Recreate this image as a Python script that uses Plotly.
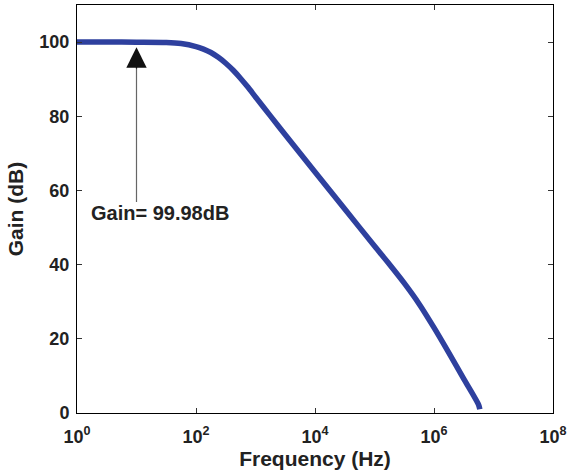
import plotly.graph_objects as go

# Frequency (Hz) and gain (dB)
freq = [1, 3.162, 10, 31.62, 56.23, 100, 133.4, 177.8, 237.1, 316.2, 421.7, 562.3,
        749.9, 1000, 1778, 3162, 10000, 31620, 100000, 177800, 316200, 562300,
        1000000, 1778000, 3162000, 5623000, 5888000]
gain = [100, 100, 99.98, 99.9, 99.6, 98.8, 98.1, 97.2, 95.9, 94.3, 92.4, 90.2,
        87.8, 85.2, 80.1, 75.0, 65.0, 55.0, 45.0, 40.1, 35.0, 29.4,
        23.0, 16.2, 9.2, 2.2, 1.0]

x_tickvals = [1, 100, 10000, 1000000, 100000000]
x_ticktext = ["10<sup>0</sup>", "10<sup>2</sup>", "10<sup>4</sup>", "10<sup>6</sup>", "10<sup>8</sup>"]
y_tickvals = [0, 20, 40, 60, 80, 100]

annot_text = "Gain= 99.98dB"
arrow_tip_gain = 98.6
arrow_head_base_gain = 92.5
arrow_tail_gain = 56.5

FONT = "Liberation Sans, Arial, sans-serif"
TXT = "#222222"

fig = go.Figure()
fig.add_trace(go.Scatter(
    x=freq, y=gain, mode="lines",
    line=dict(color="#2E409E", width=5.5, shape="spline", smoothing=0.8),
    showlegend=False,
))

# arrow shaft (gray)
fig.add_annotation(
    x=1, y=arrow_head_base_gain + 1, xref="x", yref="y",
    ax=1, ay=arrow_tail_gain, axref="x", ayref="y",
    text="", showarrow=True, arrowhead=0, arrowwidth=1.2,
    arrowcolor="#666666", standoff=0,
)
# arrow head (black)
fig.add_annotation(
    x=1, y=arrow_tip_gain, xref="x", yref="y",
    ax=1, ay=arrow_head_base_gain, axref="x", ayref="y",
    text="", showarrow=True, arrowhead=2, arrowsize=3.4, arrowwidth=1.2,
    arrowcolor="#111111", standoff=0,
)
fig.add_annotation(
    x=1.4, y=54.0, xref="x", yref="y",
    text="<b>" + annot_text + "</b>", showarrow=False,
    font=dict(family=FONT, size=20, color=TXT),
    xanchor="center", yanchor="middle",
)

fig.update_xaxes(
    type="log", range=[0, 8],
    tickvals=x_tickvals, ticktext=x_ticktext,
    ticks="inside", ticklen=5, tickcolor="#333333",
    showline=True, linecolor="black", linewidth=1, mirror="ticks",
    showgrid=False, zeroline=False, ticklabelstandoff=7,
    tickfont=dict(family=FONT, size=18, color=TXT, weight="bold"),
    title=dict(text="<b>Frequency (Hz)</b>", font=dict(family=FONT, size=21, color=TXT), standoff=5),
)
fig.update_yaxes(
    range=[0, 110],
    tickvals=y_tickvals,
    ticks="inside", ticklen=5, tickcolor="#333333",
    showline=True, linecolor="black", linewidth=1, mirror="ticks",
    showgrid=False, zeroline=False, ticklabelstandoff=3,
    tickfont=dict(family=FONT, size=18, color=TXT, weight="bold"),
    title=dict(text="<b>Gain (dB)</b>", font=dict(family=FONT, size=21, color=TXT), standoff=10),
)

fig.update_layout(
    width=571, height=475,
    margin=dict(l=77, r=14, t=4, b=62),
    paper_bgcolor="white", plot_bgcolor="white",
)

fig.write_html("out.html")
